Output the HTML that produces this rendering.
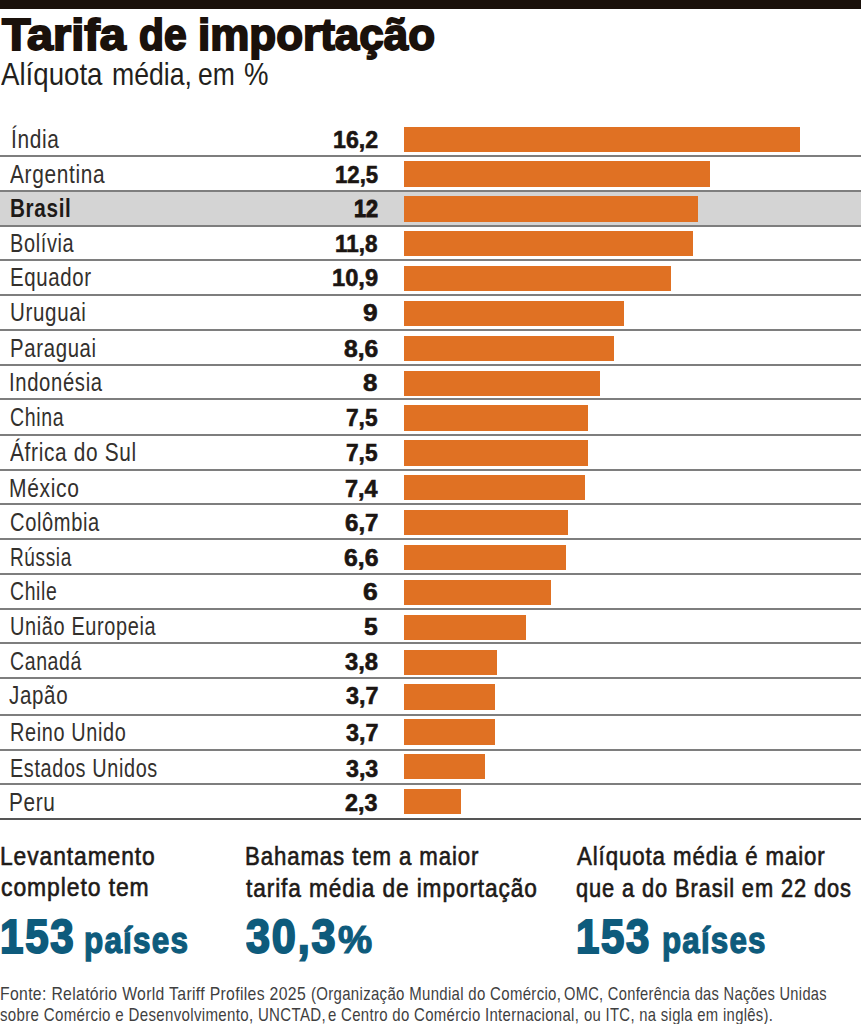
<!DOCTYPE html>
<html><head><meta charset="utf-8"><style>
html,body{margin:0;padding:0;background:#fff;width:861px;height:1024px;overflow:hidden;position:relative}
.t{position:absolute;white-space:nowrap;line-height:1;font-family:"Liberation Sans",sans-serif;transform-origin:0 0}
.t.r{transform-origin:100% 0}
</style></head><body>
<div style="position:absolute;left:0;top:190.50px;width:861px;height:35.30px;background:#d4d4d4"></div>
<div style="position:absolute;left:0;top:0;width:861px;height:9px;background:#1a110b"></div>
<div style="position:absolute;left:404.3px;top:126.50px;width:395.93px;height:25.3px;background:#e07123"></div>
<div style="position:absolute;left:0;top:155.25px;width:861px;height:2px;background:#7e7e7e"></div>
<div style="position:absolute;left:404.3px;top:161.37px;width:305.50px;height:25.3px;background:#e07123"></div>
<div style="position:absolute;left:0;top:189.50px;width:861px;height:2px;background:#7e7e7e"></div>
<div style="position:absolute;left:404.3px;top:196.24px;width:293.28px;height:25.3px;background:#e07123"></div>
<div style="position:absolute;left:0;top:224.80px;width:861px;height:2px;background:#7e7e7e"></div>
<div style="position:absolute;left:404.3px;top:231.11px;width:288.39px;height:25.3px;background:#e07123"></div>
<div style="position:absolute;left:0;top:258.80px;width:861px;height:2px;background:#7e7e7e"></div>
<div style="position:absolute;left:404.3px;top:265.98px;width:266.40px;height:25.3px;background:#e07123"></div>
<div style="position:absolute;left:0;top:294.00px;width:861px;height:2px;background:#7e7e7e"></div>
<div style="position:absolute;left:404.3px;top:300.85px;width:219.96px;height:25.3px;background:#e07123"></div>
<div style="position:absolute;left:0;top:329.20px;width:861px;height:2px;background:#7e7e7e"></div>
<div style="position:absolute;left:404.3px;top:335.72px;width:210.18px;height:25.3px;background:#e07123"></div>
<div style="position:absolute;left:0;top:363.50px;width:861px;height:2px;background:#7e7e7e"></div>
<div style="position:absolute;left:404.3px;top:370.59px;width:195.52px;height:25.3px;background:#e07123"></div>
<div style="position:absolute;left:0;top:398.20px;width:861px;height:2px;background:#7e7e7e"></div>
<div style="position:absolute;left:404.3px;top:405.46px;width:183.30px;height:25.3px;background:#e07123"></div>
<div style="position:absolute;left:0;top:434.00px;width:861px;height:2px;background:#7e7e7e"></div>
<div style="position:absolute;left:404.3px;top:440.33px;width:183.30px;height:25.3px;background:#e07123"></div>
<div style="position:absolute;left:0;top:469.20px;width:861px;height:2px;background:#7e7e7e"></div>
<div style="position:absolute;left:404.3px;top:475.20px;width:180.86px;height:25.3px;background:#e07123"></div>
<div style="position:absolute;left:0;top:503.40px;width:861px;height:2px;background:#7e7e7e"></div>
<div style="position:absolute;left:404.3px;top:510.07px;width:163.75px;height:25.3px;background:#e07123"></div>
<div style="position:absolute;left:0;top:538.20px;width:861px;height:2px;background:#7e7e7e"></div>
<div style="position:absolute;left:404.3px;top:544.94px;width:161.30px;height:25.3px;background:#e07123"></div>
<div style="position:absolute;left:0;top:572.90px;width:861px;height:2px;background:#7e7e7e"></div>
<div style="position:absolute;left:404.3px;top:579.81px;width:146.64px;height:25.3px;background:#e07123"></div>
<div style="position:absolute;left:0;top:607.90px;width:861px;height:2px;background:#7e7e7e"></div>
<div style="position:absolute;left:404.3px;top:614.68px;width:122.20px;height:25.3px;background:#e07123"></div>
<div style="position:absolute;left:0;top:642.30px;width:861px;height:2px;background:#7e7e7e"></div>
<div style="position:absolute;left:404.3px;top:649.55px;width:92.87px;height:25.3px;background:#e07123"></div>
<div style="position:absolute;left:0;top:676.90px;width:861px;height:2px;background:#7e7e7e"></div>
<div style="position:absolute;left:404.3px;top:684.42px;width:90.43px;height:25.3px;background:#e07123"></div>
<div style="position:absolute;left:0;top:714.00px;width:861px;height:2px;background:#7e7e7e"></div>
<div style="position:absolute;left:404.3px;top:719.29px;width:90.43px;height:25.3px;background:#e07123"></div>
<div style="position:absolute;left:0;top:749.20px;width:861px;height:2px;background:#7e7e7e"></div>
<div style="position:absolute;left:404.3px;top:754.16px;width:80.65px;height:25.3px;background:#e07123"></div>
<div style="position:absolute;left:0;top:783.40px;width:861px;height:2px;background:#7e7e7e"></div>
<div style="position:absolute;left:404.3px;top:789.03px;width:56.21px;height:25.3px;background:#e07123"></div>
<div style="position:absolute;left:0;top:817.80px;width:861px;height:2.4px;background:#555555"></div>
<div class="t" style="left:1.97px;top:13.52px;font-size:43.62px;font-weight:bold;color:#1a110b;transform:scaleX(1.0720);-webkit-text-stroke:1.9px #1a110b;">Tarifa</div>
<div class="t" style="left:139.07px;top:13.52px;font-size:43.62px;font-weight:bold;color:#1a110b;transform:scaleX(0.9342);-webkit-text-stroke:1.9px #1a110b;">de</div>
<div class="t" style="left:198.36px;top:13.52px;font-size:43.62px;font-weight:bold;color:#1a110b;transform:scaleX(1.0083);-webkit-text-stroke:1.9px #1a110b;">importação</div>
<div class="t" style="left:0.87px;top:58.90px;font-size:31.30px;font-weight:normal;color:#231f1c;transform:scaleX(0.8839);">Alíquota</div>
<div class="t" style="left:112.00px;top:58.90px;font-size:31.30px;font-weight:normal;color:#231f1c;transform:scaleX(0.8516);">média,</div>
<div class="t" style="left:197.91px;top:58.90px;font-size:31.30px;font-weight:normal;color:#231f1c;transform:scaleX(0.8462);">em</div>
<div class="t" style="left:243.79px;top:58.90px;font-size:31.30px;font-weight:normal;color:#231f1c;transform:scaleX(0.8795);">%</div>
<div class="t" style="left:10.84px;top:126.75px;font-size:24.93px;font-weight:normal;color:#33302d;transform:scaleX(0.8381);letter-spacing:0.80px;">Índia</div>
<div class="t" style="left:332.87px;top:127.84px;font-size:24.35px;font-weight:bold;color:#1b1512;transform:scaleX(0.9514);-webkit-text-stroke:0.6px #1b1512;">16,2</div>
<div class="t" style="left:9.77px;top:161.65px;font-size:24.93px;font-weight:normal;color:#33302d;transform:scaleX(0.8372);letter-spacing:0.80px;">Argentina</div>
<div class="t" style="left:334.85px;top:162.74px;font-size:24.35px;font-weight:bold;color:#1b1512;transform:scaleX(0.9109);-webkit-text-stroke:0.6px #1b1512;">12,5</div>
<div class="t" style="left:9.60px;top:195.90px;font-size:24.93px;font-weight:bold;color:#1e1a17;transform:scaleX(0.8309);letter-spacing:0.80px;">Brasil</div>
<div class="t" style="left:354.08px;top:197.28px;font-size:23.77px;font-weight:bold;color:#1b1512;transform:scaleX(0.9107);-webkit-text-stroke:1.0px #1b1512;">12</div>
<div class="t" style="left:9.54px;top:231.20px;font-size:24.93px;font-weight:normal;color:#33302d;transform:scaleX(0.7997);letter-spacing:0.80px;">Bolívia</div>
<div class="t" style="left:335.33px;top:232.29px;font-size:24.35px;font-weight:bold;color:#1b1512;transform:scaleX(0.9230);-webkit-text-stroke:0.6px #1b1512;">11,8</div>
<div class="t" style="left:9.63px;top:265.20px;font-size:24.93px;font-weight:normal;color:#33302d;transform:scaleX(0.8196);letter-spacing:0.80px;">Equador</div>
<div class="t" style="left:332.04px;top:266.29px;font-size:24.35px;font-weight:bold;color:#1b1512;transform:scaleX(0.9719);-webkit-text-stroke:0.6px #1b1512;">10,9</div>
<div class="t" style="left:9.76px;top:300.40px;font-size:24.93px;font-weight:normal;color:#33302d;transform:scaleX(0.8241);letter-spacing:0.80px;">Uruguai</div>
<div class="t" style="left:363.23px;top:301.49px;font-size:24.35px;font-weight:bold;color:#1b1512;transform:scaleX(1.0838);-webkit-text-stroke:0.6px #1b1512;">9</div>
<div class="t" style="left:9.87px;top:335.60px;font-size:24.93px;font-weight:normal;color:#33302d;transform:scaleX(0.8174);letter-spacing:0.80px;">Paraguai</div>
<div class="t" style="left:344.00px;top:336.69px;font-size:24.35px;font-weight:bold;color:#1b1512;transform:scaleX(1.0147);-webkit-text-stroke:0.6px #1b1512;">8,6</div>
<div class="t" style="left:9.46px;top:369.90px;font-size:24.93px;font-weight:normal;color:#33302d;transform:scaleX(0.8127);letter-spacing:0.80px;">Indonésia</div>
<div class="t" style="left:363.13px;top:370.99px;font-size:24.35px;font-weight:bold;color:#1b1512;transform:scaleX(1.0612);-webkit-text-stroke:0.6px #1b1512;">8</div>
<div class="t" style="left:9.78px;top:404.60px;font-size:24.93px;font-weight:normal;color:#33302d;transform:scaleX(0.7832);letter-spacing:0.80px;">China</div>
<div class="t" style="left:346.28px;top:405.69px;font-size:24.35px;font-weight:bold;color:#1b1512;transform:scaleX(0.9320);-webkit-text-stroke:0.6px #1b1512;">7,5</div>
<div class="t" style="left:10.20px;top:440.40px;font-size:24.93px;font-weight:normal;color:#33302d;transform:scaleX(0.8364);letter-spacing:0.80px;">África do Sul</div>
<div class="t" style="left:346.28px;top:441.49px;font-size:24.35px;font-weight:bold;color:#1b1512;transform:scaleX(0.9320);-webkit-text-stroke:0.6px #1b1512;">7,5</div>
<div class="t" style="left:9.35px;top:475.60px;font-size:24.93px;font-weight:normal;color:#33302d;transform:scaleX(0.8430);letter-spacing:0.80px;">México</div>
<div class="t" style="left:344.63px;top:476.69px;font-size:24.35px;font-weight:bold;color:#1b1512;transform:scaleX(0.9643);-webkit-text-stroke:0.6px #1b1512;">7,4</div>
<div class="t" style="left:9.73px;top:509.80px;font-size:24.93px;font-weight:normal;color:#33302d;transform:scaleX(0.8053);letter-spacing:0.80px;">Colômbia</div>
<div class="t" style="left:344.66px;top:510.89px;font-size:24.35px;font-weight:bold;color:#1b1512;transform:scaleX(0.9900);-webkit-text-stroke:0.6px #1b1512;">6,7</div>
<div class="t" style="left:9.91px;top:544.60px;font-size:24.93px;font-weight:normal;color:#33302d;transform:scaleX(0.7640);letter-spacing:0.80px;">Rússia</div>
<div class="t" style="left:343.67px;top:545.69px;font-size:24.35px;font-weight:bold;color:#1b1512;transform:scaleX(1.0190);-webkit-text-stroke:0.6px #1b1512;">6,6</div>
<div class="t" style="left:9.82px;top:579.30px;font-size:24.93px;font-weight:normal;color:#33302d;transform:scaleX(0.7781);letter-spacing:0.80px;">Chile</div>
<div class="t" style="left:363.43px;top:580.39px;font-size:24.35px;font-weight:bold;color:#1b1512;transform:scaleX(1.0883);-webkit-text-stroke:0.6px #1b1512;">6</div>
<div class="t" style="left:9.66px;top:614.30px;font-size:24.93px;font-weight:normal;color:#33302d;transform:scaleX(0.7990);letter-spacing:0.80px;">União Europeia</div>
<div class="t" style="left:364.11px;top:615.39px;font-size:24.35px;font-weight:bold;color:#1b1512;transform:scaleX(1.0132);-webkit-text-stroke:0.6px #1b1512;">5</div>
<div class="t" style="left:9.98px;top:648.70px;font-size:24.93px;font-weight:normal;color:#33302d;transform:scaleX(0.7818);letter-spacing:0.80px;">Canadá</div>
<div class="t" style="left:344.83px;top:649.79px;font-size:24.35px;font-weight:bold;color:#1b1512;transform:scaleX(0.9752);-webkit-text-stroke:0.6px #1b1512;">3,8</div>
<div class="t" style="left:9.47px;top:683.30px;font-size:24.93px;font-weight:normal;color:#33302d;transform:scaleX(0.8242);letter-spacing:0.80px;">Japão</div>
<div class="t" style="left:345.65px;top:684.39px;font-size:24.35px;font-weight:bold;color:#1b1512;transform:scaleX(0.9580);-webkit-text-stroke:0.6px #1b1512;">3,7</div>
<div class="t" style="left:9.68px;top:720.40px;font-size:24.93px;font-weight:normal;color:#33302d;transform:scaleX(0.7972);letter-spacing:0.80px;">Reino Unido</div>
<div class="t" style="left:345.65px;top:721.49px;font-size:24.35px;font-weight:bold;color:#1b1512;transform:scaleX(0.9580);-webkit-text-stroke:0.6px #1b1512;">3,7</div>
<div class="t" style="left:9.72px;top:755.60px;font-size:24.93px;font-weight:normal;color:#33302d;transform:scaleX(0.7963);letter-spacing:0.80px;">Estados Unidos</div>
<div class="t" style="left:345.99px;top:756.69px;font-size:24.35px;font-weight:bold;color:#1b1512;transform:scaleX(0.9530);-webkit-text-stroke:0.6px #1b1512;">3,3</div>
<div class="t" style="left:9.10px;top:789.80px;font-size:24.93px;font-weight:normal;color:#33302d;transform:scaleX(0.8346);letter-spacing:0.80px;">Peru</div>
<div class="t" style="left:345.26px;top:790.89px;font-size:24.35px;font-weight:bold;color:#1b1512;transform:scaleX(0.9574);-webkit-text-stroke:0.6px #1b1512;">2,3</div>
<div class="t" style="left:-0.48px;top:844.10px;font-size:24.93px;font-weight:normal;color:#1e1a17;transform:scaleX(0.9161);-webkit-text-stroke:0.6px #1e1a17;letter-spacing:1.00px;">Levantamento</div>
<div class="t" style="left:0.64px;top:874.80px;font-size:24.93px;font-weight:normal;color:#1e1a17;transform:scaleX(0.9198);-webkit-text-stroke:0.6px #1e1a17;letter-spacing:1.00px;">completo tem</div>
<div class="t" style="left:244.53px;top:844.20px;font-size:24.93px;font-weight:normal;color:#1e1a17;transform:scaleX(0.8917);-webkit-text-stroke:0.6px #1e1a17;letter-spacing:1.00px;">Bahamas tem a maior</div>
<div class="t" style="left:245.85px;top:875.50px;font-size:24.93px;font-weight:normal;color:#1e1a17;transform:scaleX(0.9089);-webkit-text-stroke:0.6px #1e1a17;letter-spacing:1.00px;">tarifa média de importação</div>
<div class="t" style="left:576.61px;top:844.20px;font-size:24.93px;font-weight:normal;color:#1e1a17;transform:scaleX(0.8935);-webkit-text-stroke:0.6px #1e1a17;letter-spacing:1.00px;">Alíquota média é maior</div>
<div class="t" style="left:575.92px;top:875.50px;font-size:24.93px;font-weight:normal;color:#1e1a17;transform:scaleX(0.8767);-webkit-text-stroke:0.6px #1e1a17;letter-spacing:1.00px;">que a do Brasil em 22 dos</div>
<div class="t" style="left:0.03px;top:912.15px;font-size:48.26px;font-weight:bold;color:#0e5b7c;transform:scaleX(0.8733);-webkit-text-stroke:2.0px #0e5b7c;letter-spacing:2.00px;">153</div>
<div class="t" style="left:84.23px;top:922.04px;font-size:36.98px;font-weight:bold;color:#0e5b7c;transform:scaleX(0.8511);-webkit-text-stroke:1.3px #0e5b7c;letter-spacing:1.40px;">países</div>
<div class="t" style="left:246.27px;top:912.15px;font-size:48.26px;font-weight:bold;color:#0e5b7c;transform:scaleX(0.8956);-webkit-text-stroke:2.0px #0e5b7c;letter-spacing:2.00px;">30,3</div>
<div class="t" style="left:337.81px;top:920.28px;font-size:39.13px;font-weight:bold;color:#0e5b7c;transform:scaleX(0.9820);-webkit-text-stroke:1.2px #0e5b7c;">%</div>
<div class="t" style="left:575.74px;top:912.15px;font-size:48.26px;font-weight:bold;color:#0e5b7c;transform:scaleX(0.8690);-webkit-text-stroke:2.0px #0e5b7c;letter-spacing:2.00px;">153</div>
<div class="t" style="left:662.18px;top:922.04px;font-size:36.98px;font-weight:bold;color:#0e5b7c;transform:scaleX(0.8481);-webkit-text-stroke:1.3px #0e5b7c;letter-spacing:1.40px;">países</div>
<div class="t" style="left:0.03px;top:984.55px;font-size:18.84px;font-weight:normal;color:#3f3f3f;transform:scaleX(0.8368);letter-spacing:0.40px;">Fonte: Relatório World Tariff Profiles 2025</div>
<div class="t" style="left:311.39px;top:984.55px;font-size:18.84px;font-weight:normal;color:#3f3f3f;transform:scaleX(0.7954);letter-spacing:0.40px;">(Organização Mundial do Comércio,</div>
<div class="t" style="left:563.92px;top:984.55px;font-size:18.84px;font-weight:normal;color:#3f3f3f;transform:scaleX(0.7779);letter-spacing:0.40px;">OMC, Conferência das Nações Unidas</div>
<div class="t" style="left:-0.44px;top:1005.55px;font-size:18.84px;font-weight:normal;color:#3f3f3f;transform:scaleX(0.8002);letter-spacing:0.40px;">sobre Comércio e Desenvolvimento, UNCTAD,</div>
<div class="t" style="left:327.87px;top:1005.55px;font-size:18.84px;font-weight:normal;color:#3f3f3f;transform:scaleX(0.7938);letter-spacing:0.40px;">e Centro do Comércio Internacional,</div>
<div class="t" style="left:583.77px;top:1005.55px;font-size:18.84px;font-weight:normal;color:#3f3f3f;transform:scaleX(0.7874);letter-spacing:0.40px;">ou ITC, na sigla em inglês).</div>
</body></html>
